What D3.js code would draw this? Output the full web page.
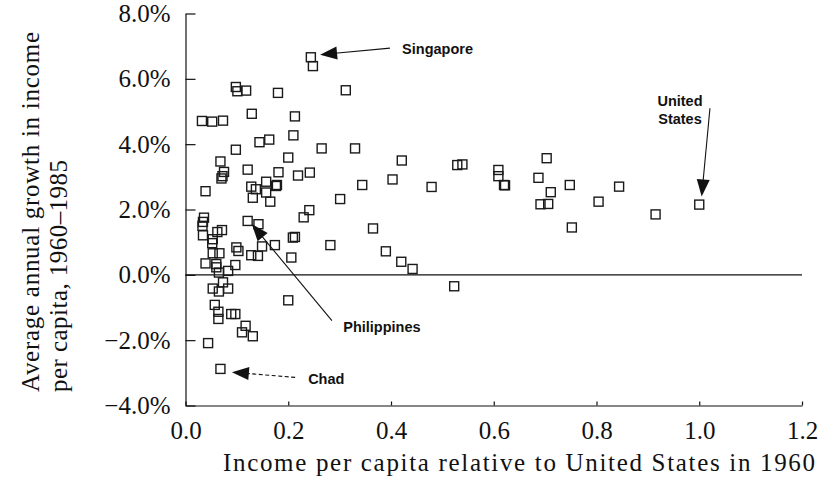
<!DOCTYPE html>
<html>
<head>
<meta charset="utf-8">
<script src="https://cdn.jsdelivr.net/npm/d3@7"></script>
<style>
  body { margin: 0; background: #fff; }
  svg { display: block; }
</style>
</head>
<body>
<svg id="chart" width="823" height="485"></svg>
<script>
// income per capita relative to US in 1960
const incomeRel = [0.244,0.248,0.098,0.101,0.118,0.180,0.312,0.032,0.052,0.073,
  0.129,0.213,0.144,0.163,0.210,0.098,0.265,0.330,0.068,0.200,
  0.121,0.181,0.219,0.242,0.075,0.072,0.070,0.039,0.128,0.137,
  0.157,0.176,0.178,0.157,0.131,0.165,0.344,0.301,0.121,0.142,
  0.241,0.230,0.036,0.034,0.033,0.034,0.071,0.062,0.053,0.052,
  0.213,0.209,0.282,0.174,0.149,0.099,0.103,0.128,0.141,0.206,
  0.066,0.053,0.039,0.060,0.097,0.060,0.065,0.083,0.073,0.053,
  0.065,0.083,0.200,0.057,0.064,0.064,0.089,0.097,0.117,0.110,
  0.131,0.044,0.068,0.421,0.403,0.479,0.529,0.539,0.609,0.609,
  0.620,0.622,0.703,0.687,0.711,0.691,0.706,0.748,0.752,0.804,
  0.365,0.390,0.420,0.442,0.523,0.844,0.915,1.000]
// average annual growth 1960-1985, percent
const growth = [6.66,6.39,5.75,5.62,5.64,5.57,5.65,4.71,4.69,4.72,
  4.93,4.85,4.06,4.14,4.27,3.83,3.87,3.87,3.47,3.59,
  3.22,3.14,3.04,3.13,3.15,3.02,2.95,2.56,2.70,2.62,
  2.85,2.72,2.75,2.52,2.36,2.24,2.75,2.32,1.65,1.55,
  1.98,1.76,1.75,1.62,1.50,1.21,1.37,1.31,1.09,0.97,
  1.16,1.14,0.91,0.91,0.87,0.84,0.73,0.60,0.58,0.53,
  0.66,0.66,0.35,0.33,0.30,0.23,0.07,0.12,-0.23,-0.42,
  -0.51,-0.42,-0.78,-0.92,-1.13,-1.35,-1.20,-1.20,-1.56,-1.76,
  -1.88,-2.09,-2.88,3.50,2.92,2.69,3.36,3.38,3.21,3.02,
  2.75,2.74,3.57,2.97,2.53,2.16,2.17,2.75,1.45,2.24,
  1.42,0.72,0.40,0.18,-0.35,2.70,1.85,2.15]

const xTicks = [0, 0.2, 0.4, 0.6, 0.8, 1.0, 1.2]
const yTicks = [8, 6, 4, 2, 0, -2, -4]

// labelled countries: arrow tail/tip and label anchor, in data units
const notes = [
  {name: ["Singapore"], tail: [0.398, 6.94], tip: [0.262, 6.74], at: [0.4216, 6.76], anchor: "start", dash: null},
  {name: ["United", "States"], tail: [1.0208, 5.10], tip: [1.0047, 2.40], at: [0.9625, 5.17], anchor: "middle", dash: null},
  {name: ["Philippines"], tail: [0.285, -1.40], tip: [0.129, 1.555], at: [0.307, -1.75], anchor: "start", dash: null},
  {name: ["Chad"], tail: [0.2134, -3.14], tip: [0.0903, -2.98], at: [0.2387, -3.34], anchor: "start", dash: "4,2.5"}
]

const svg = d3.select("#chart")
const serif = "'Liberation Serif', 'Times New Roman', serif"
const sans = "'Liberation Sans', Arial, sans-serif"

const x = d3.scaleLinear().domain([0, 1.2]).range([185.5, 802])
const y = d3.scaleLinear().domain([-4, 8]).range([405.5, 13.5])

// y axis
const yAxis = svg.append("g")
    .attr("transform", "translate(" + x(0) + ",0)")
    .call(d3.axisLeft(y).tickValues(yTicks).tickSizeInner(-10).tickSizeOuter(0)
        .tickFormat(d => (d < 0 ? "\u2212" : "") + Math.abs(d).toFixed(1) + "%"))
yAxis.select(".domain").attr("stroke", "#111").attr("stroke-width", 1.2)
yAxis.selectAll(".tick line").attr("stroke", "#111").attr("stroke-width", 1.2)
yAxis.selectAll(".tick text")
    .attr("x", -15)
    .style("font-family", serif)
    .style("font-size", "25px")
    .attr("fill", "#111")

// x axis
const xAxis = svg.append("g")
    .attr("transform", "translate(0," + y(-4) + ")")
    .call(d3.axisBottom(x).tickValues(xTicks).tickSizeInner(-4).tickSizeOuter(0)
        .tickFormat(d3.format(".1f")))
xAxis.select(".domain").attr("stroke", "#111").attr("stroke-width", 1.2)
xAxis.selectAll(".tick line").attr("stroke", "#111").attr("stroke-width", 1.2)
xAxis.selectAll(".tick text")
    .attr("y", 16)
    .attr("dy", "0.71em")
    .style("font-family", serif)
    .style("font-size", "25px")
    .attr("fill", "#111")

// zero line
svg.append("line")
    .attr("x1", x(0)).attr("x2", x(1.2))
    .attr("y1", y(0)).attr("y2", y(0))
    .attr("stroke", "#111").attr("stroke-width", 1.1)

// axis titles
svg.append("text")
    .attr("x", 223).attr("y", 471)
    .attr("textLength", 592)
    .attr("lengthAdjust", "spacing")
    .style("font-family", serif).style("font-size", "25px")
    .attr("fill", "#111")
    .text("Income per capita relative to United States in 1960")

const yTitle = [["Average annual growth in income", 38.5, 360], ["per capita, 1960\u20131985", 67, 232]]
yTitle.forEach(t => {
    svg.append("text")
        .attr("transform", "translate(" + t[1] + ",392) rotate(-90)")
        .attr("textLength", t[2])
        .attr("lengthAdjust", "spacing")
        .style("font-family", serif).style("font-size", "25px")
        .attr("fill", "#111")
        .text(t[0])
})

// points
const pts = incomeRel.map((v, i) => ({inc: v, g: growth[i]}))
const s = 9
svg.append("g").selectAll("rect")
    .data(pts)
    .enter()
    .append("rect")
    .attr("x", d => x(d.inc) - s / 2)
    .attr("y", d => y(d.g) - s / 2)
    .attr("width", s)
    .attr("height", s)
    .attr("fill", "none")
    .attr("stroke", "#1a1a1a")
    .attr("stroke-width", 1.4)

// annotations
notes.forEach(n => {
    const x1 = x(n.tail[0]), y1 = y(n.tail[1])
    const x2 = x(n.tip[0]), y2 = y(n.tip[1])
    const len = Math.hypot(x2 - x1, y2 - y1)
    const ux = (x2 - x1) / len, uy = (y2 - y1) / len
    const hl = 17, hw = 6.5
    const bx = x2 - ux * hl, by = y2 - uy * hl
    svg.append("line")
        .attr("x1", x1).attr("y1", y1)
        .attr("x2", bx + ux * 2).attr("y2", by + uy * 2)
        .attr("stroke", "#111").attr("stroke-width", 1.1)
        .attr("stroke-dasharray", n.dash)
    svg.append("path")
        .attr("d", "M" + x2 + "," + y2 +
            "L" + (bx - uy * hw) + "," + (by + ux * hw) +
            "L" + (bx + uy * hw) + "," + (by - ux * hw) + "Z")
        .attr("fill", "#111")
    n.name.forEach((line, i) => {
        svg.append("text")
            .attr("x", x(n.at[0]))
            .attr("y", y(n.at[1]) + i * 18)
            .attr("text-anchor", n.anchor)
            .style("font-family", sans)
            .style("font-size", "14.5px")
            .style("font-weight", "bold")
            .attr("fill", "#111")
            .text(line)
    })
})
</script>
</body>
</html>
